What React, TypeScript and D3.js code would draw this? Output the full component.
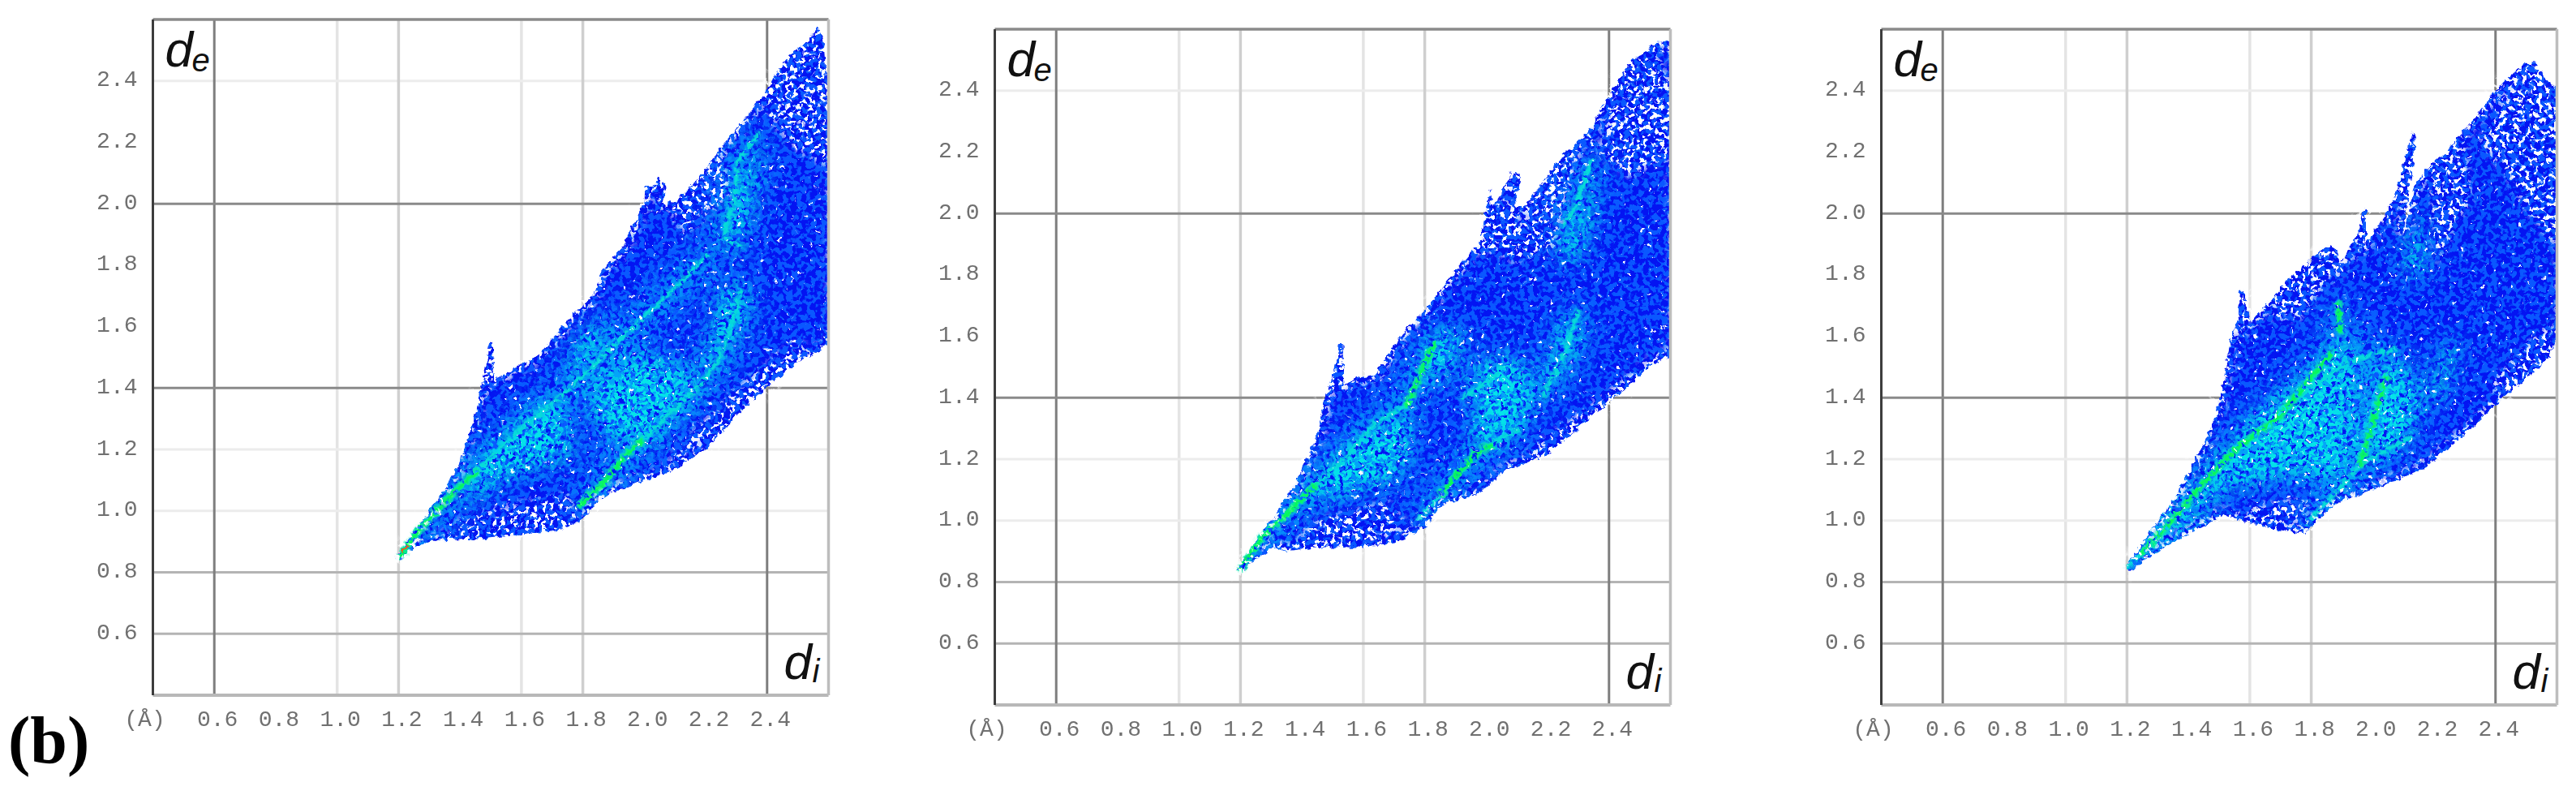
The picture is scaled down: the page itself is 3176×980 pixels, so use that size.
import React from 'react';
import * as d3 from 'd3';

const xTickLabels = [0.6, 0.8, 1.0, 1.2, 1.4, 1.6, 1.8, 2.0, 2.2, 2.4];
const yTickLabels = [2.4, 2.2, 2.0, 1.8, 1.6, 1.4, 1.2, 1.0, 0.8, 0.6];

// the picture only shows some of the grid lines, and at different strengths
const darkGridX = [0.6, 2.4];
const midGridX = [1.2, 1.8];
const faintGridX = [1.0, 1.6];
const darkGridY = [2.0, 1.4];
const midGridY = [0.8, 0.6];
const faintGridY = [2.4, 1.2, 1.0];

type Pt = [number, number];

// ---- left plot, outline and ridges as [di, de]
const upperEdgeA: Pt[] = [[1.19,0.846],[1.263,0.952],[1.339,1.052],[1.396,1.152],[1.424,1.239],[1.448,1.301],[1.471,1.414],[1.486,1.476],[1.5,1.557],[1.507,1.557],[1.511,1.426],[1.547,1.445],[1.585,1.47],[1.66,1.507],[1.698,1.557],[1.765,1.638],[1.831,1.7],[1.873,1.8],[1.925,1.85],[1.973,1.95],[2.001,2.012],[2.003,2.056],[2.03,2.056],[2.048,2.087],[2.072,2.056],[2.062,2.0],[2.105,2.012],[2.152,2.056],[2.2,2.112],[2.247,2.181],[2.304,2.25],[2.389,2.355],[2.426,2.418],[2.469,2.48],[2.521,2.524],[2.564,2.574],[2.583,2.536],[2.592,2.424],[2.62,2.4]];
const lowerEdgeA: Pt[] = [[2.62,1.56],[2.559,1.513],[2.493,1.482],[2.398,1.401],[2.304,1.314],[2.209,1.208],[2.114,1.146],[2.048,1.114],[1.973,1.089],[1.888,1.058],[1.85,1.033],[1.821,0.99],[1.774,0.958],[1.727,0.94],[1.594,0.921],[1.462,0.909],[1.301,0.902],[1.254,0.884],[1.207,0.84]];
const greenRidgesA: Pt[][] = [
  [[1.207,0.853],[1.263,0.934],[1.367,1.046],[1.452,1.127]],
  [[1.793,1.021],[1.878,1.102],[1.935,1.177],[1.991,1.227]],
];
const cyanRidgesA: Pt[][] = [
  [[1.452,1.127],[1.519,1.196],[1.623,1.289],[1.717,1.364],[1.812,1.451],[1.926,1.563],[2.02,1.651],[2.114,1.738],[2.209,1.838]],
  [[1.991,1.227],[2.067,1.301],[2.171,1.401],[2.237,1.482],[2.275,1.576],[2.313,1.713]],
  [[2.37,2.224],[2.304,2.137],[2.294,2.0],[2.266,1.938],[2.266,1.888],[2.318,1.857]],
];
const redRidgesA: Pt[][] = [[[1.212,0.865],[1.232,0.888]]];
const cloudsA: Pt[][] = [
  [[1.831,1.414],[1.973,1.514],[2.114,1.489],[2.171,1.401],[2.114,1.314],[2.02,1.214],[1.926,1.214],[1.831,1.289]],
  [[1.396,1.04],[1.452,1.164],[1.585,1.289],[1.66,1.364],[1.736,1.364],[1.774,1.177],[1.642,1.139],[1.547,1.114],[1.452,1.04]],
  [[1.774,1.538],[1.85,1.626],[1.888,1.588],[1.812,1.464],[1.736,1.414]],
  [[2.256,1.738],[2.341,1.738],[2.331,1.613],[2.256,1.513],[2.209,1.439],[2.171,1.414],[2.2,1.489]],
  [[2.275,2.012],[2.388,2.2],[2.36,2.012],[2.304,1.863],[2.256,1.863]],
];
const sparseA: Pt[][] = [
  [[2.426,2.418],[2.564,2.574],[2.62,2.4],[2.62,2.112],[2.49,2.18],[2.396,2.287]],
  [[1.48,1.0],[1.755,1.058],[1.774,0.977],[1.623,0.934],[1.405,0.915],[1.386,0.965]],
  [[2.05,1.12],[2.3,1.32],[2.55,1.5],[2.5,1.56],[2.3,1.4],[2.12,1.22]],
  [[2.07,2.0],[2.25,2.16],[2.28,2.03],[2.13,1.9]],
];

// ---- middle plot
const upperEdgeB: Pt[] = [[1.19,0.839],[1.252,0.939],[1.318,1.026],[1.384,1.132],[1.431,1.232],[1.455,1.295],[1.474,1.394],[1.502,1.482],[1.521,1.569],[1.533,1.569],[1.535,1.438],[1.573,1.463],[1.639,1.476],[1.676,1.532],[1.733,1.619],[1.799,1.682],[1.893,1.806],[1.978,1.906],[2.002,2.019],[2.014,2.081],[2.021,2.019],[2.058,2.081],[2.082,2.137],[2.11,2.131],[2.096,2.019],[2.12,2.019],[2.186,2.106],[2.252,2.194],[2.327,2.256],[2.375,2.343],[2.422,2.418],[2.469,2.5],[2.507,2.518],[2.544,2.556],[2.592,2.562],[2.62,2.55]];
const lowerEdgeB: Pt[] = [[2.62,1.54],[2.535,1.507],[2.431,1.407],[2.375,1.369],[2.28,1.282],[2.186,1.207],[2.073,1.17],[1.978,1.088],[1.856,1.051],[1.827,1.014],[1.79,0.97],[1.714,0.932],[1.601,0.914],[1.469,0.914],[1.346,0.901],[1.308,0.914],[1.205,0.839]];
const greenRidgesB: Pt[][] = [
  [[1.2,0.845],[1.271,0.945],[1.375,1.045],[1.441,1.113]],
  [[1.856,1.088],[1.912,1.157],[1.969,1.22],[2.016,1.245]],
  [[1.742,1.376],[1.799,1.507],[1.837,1.582]],
];
const cyanRidgesB: Pt[][] = [
  [[1.441,1.113],[1.544,1.207],[1.639,1.319],[1.742,1.376]],
  [[1.78,1.007],[1.856,1.088]],
  [[2.016,1.245],[2.101,1.295]],
  [[1.922,1.4],[2.0,1.45],[2.054,1.5]],
  [[2.252,1.969],[2.29,2.019],[2.346,2.181]],
  [[2.186,1.407],[2.261,1.557],[2.299,1.682]],
];
const redRidgesB: Pt[][] = [];
const cloudsB: Pt[][] = [
  [[1.95,1.507],[2.092,1.544],[2.167,1.419],[2.12,1.294],[1.997,1.232],[1.95,1.245],[1.969,1.4]],
  [[1.412,1.057],[1.459,1.17],[1.544,1.245],[1.676,1.332],[1.761,1.357],[1.752,1.195],[1.676,1.12],[1.525,1.082]],
  [[1.79,1.544],[1.846,1.632],[1.94,1.607],[1.865,1.482],[1.77,1.419]],
  [[2.233,1.607],[2.299,1.707],[2.308,1.582],[2.252,1.482],[2.186,1.419]],
  [[2.233,1.906],[2.327,2.081],[2.346,2.181],[2.346,2.006],[2.308,1.857],[2.261,1.832]],
];
const sparseB: Pt[][] = [
  [[2.365,2.194],[2.422,2.418],[2.544,2.556],[2.62,2.356],[2.62,2.194],[2.469,2.119]],
  [[1.431,0.995],[1.676,1.063],[1.752,0.982],[1.601,0.926],[1.375,0.92]],
  [[2.044,1.145],[2.148,1.232],[2.375,1.407],[2.592,1.569],[2.592,1.519],[2.375,1.357],[2.148,1.182],[2.044,1.107]],
  [[1.997,1.881],[2.016,2.056],[2.101,2.006],[2.11,1.957],[2.186,2.081],[2.318,2.231],[2.214,1.881],[2.09,1.844]],
];

// ---- right plot
const upperEdgeC: Pt[] = [[1.197,0.851],[1.268,0.957],[1.353,1.07],[1.42,1.195],[1.477,1.307],[1.51,1.432],[1.538,1.594],[1.562,1.657],[1.569,1.75],[1.581,1.75],[1.6,1.644],[1.656,1.707],[1.723,1.782],[1.808,1.857],[1.855,1.9],[1.884,1.887],[1.893,1.832],[1.95,1.932],[1.969,2.019],[1.978,2.019],[1.978,1.907],[2.016,1.957],[2.073,2.057],[2.116,2.219],[2.13,2.269],[2.139,2.256],[2.132,2.156],[2.097,1.932],[2.102,1.944],[2.139,2.094],[2.182,2.156],[2.234,2.194],[2.262,2.231],[2.329,2.306],[2.395,2.394],[2.442,2.444],[2.49,2.488],[2.528,2.494],[2.575,2.425],[2.62,2.39]];
const lowerEdgeC: Pt[] = [[2.62,1.63],[2.565,1.519],[2.433,1.407],[2.3,1.282],[2.168,1.17],[2.016,1.107],[1.884,1.057],[1.798,0.982],[1.78,0.957],[1.732,0.964],[1.637,0.982],[1.514,1.02],[1.448,0.982],[1.334,0.92],[1.211,0.839]];
const greenRidgesC: Pt[][] = [
  [[1.249,0.895],[1.363,1.02],[1.439,1.113],[1.552,1.232],[1.694,1.338],[1.865,1.544]],
  [[1.959,1.182],[1.997,1.307],[2.045,1.469]],
  [[1.888,1.706],[1.893,1.619]],
];
const cyanRidgesC: Pt[][] = [
  [[1.202,0.851],[1.249,0.895]],
  [[1.789,0.995],[1.884,1.095],[1.959,1.182],[2.12,1.27]],
  [[1.732,1.382],[1.922,1.519],[2.073,1.557]],
];
const redRidgesC: Pt[][] = [];
const cloudsC: Pt[][] = [
  [[1.95,1.182],[2.016,1.507],[2.111,1.532],[2.149,1.357],[2.111,1.257]],
  [[1.372,1.032],[1.618,1.357],[1.827,1.507],[1.902,1.657],[1.95,1.482],[1.922,1.132],[1.732,1.145],[1.543,1.107]],
  [[2.111,1.882],[2.168,2.019],[2.168,1.794],[2.111,1.794]],
  [[2.149,1.357],[2.253,1.607],[2.281,1.569],[2.225,1.407]],
  [[1.212,0.857],[1.344,1.057],[1.495,1.045],[1.334,0.932]],
];
const sparseC: Pt[][] = [
  [[2.347,2.231],[2.49,2.488],[2.62,2.394],[2.62,1.87],[2.51,1.994],[2.424,2.144]],
  [[1.723,1.782],[1.855,1.9],[1.893,1.832],[1.761,1.657],[1.666,1.657]],
  [[2.376,1.444],[2.565,1.632],[2.62,1.632],[2.565,1.519],[2.433,1.407]],
  [[2.187,2.144],[2.3,2.231],[2.319,2.044],[2.206,1.832]],
  [[1.59,1.045],[1.789,1.07],[1.77,0.995],[1.618,1.0]],
];

const plots = [
  { left: 188.5, top: 24, upper: upperEdgeA, lower: lowerEdgeA, green: greenRidgesA, cyan: cyanRidgesA, red: redRidgesA, clouds: cloudsA, sparse: sparseA },
  { left: 1226.5, top: 36, upper: upperEdgeB, lower: lowerEdgeB, green: greenRidgesB, cyan: cyanRidgesB, red: redRidgesB, clouds: cloudsB, sparse: sparseB },
  { left: 2319.5, top: 36, upper: upperEdgeC, lower: lowerEdgeC, green: greenRidgesC, cyan: cyanRidgesC, red: redRidgesC, clouds: cloudsC, sparse: sparseC },
];

const SIZE = 833;
const x = d3.scaleLinear().domain([0.4, 2.6]).range([0, SIZE]);
const y = d3.scaleLinear().domain([0.4, 2.6]).range([SIZE, 0]);
const line = d3.line<Pt>().x(d => x(d[0])).y(d => y(d[1]));
const closed = (pts: Pt[]) => line(pts) + 'Z';

const monoFont = '"Liberation Mono", "DejaVu Sans Mono", monospace';
const sansFont = '"Liberation Sans", Arial, sans-serif';

// speckle texture for the scattered pixels of the fingerprint: keeps the parts of the
// source where the noise is above a threshold
const Speckle = ({ id, freq, slope, cut, seed, blur }: any) => (
  <filter id={id} filterUnits="userSpaceOnUse" x={-30} y={-30} width={SIZE + 60} height={SIZE + 60} colorInterpolationFilters="sRGB">
    <feGaussianBlur in="SourceGraphic" stdDeviation={blur} result="s" />
    <feTurbulence type="fractalNoise" baseFrequency={freq} numOctaves={1} seed={seed} result="n" />
    <feColorMatrix in="n" type="matrix" values={`0 0 0 0 1  0 0 0 0 1  0 0 0 0 1  ${slope} 0 0 0 ${cut}`} result="m" />
    <feComposite in="s" in2="m" operator="in" />
  </filter>
);

const Plot = ({ plot, index }: any) => {
  const outline = closed([...plot.upper, ...plot.lower]);
  const seed = index * 7 + 3;
  const gridLines = (vals: number[], axis: string, color: string, w: number) =>
    vals.map(v =>
      axis === 'x'
        ? <line key={axis + v + color} x1={x(v)} x2={x(v)} y1={0} y2={SIZE} stroke={color} strokeWidth={w} />
        : <line key={axis + v + color} x1={0} x2={SIZE} y1={y(v)} y2={y(v)} stroke={color} strokeWidth={w} />
    );
  return (
    <g transform={`translate(${plot.left},${plot.top})`}>
      <defs>
        <clipPath id={`box${index}`}><rect x={0} y={-2} width={SIZE} height={SIZE} /></clipPath>
        <clipPath id={`shape${index}`}><path d={outline} /></clipPath>
        <filter id={`rough${index}`} filterUnits="userSpaceOnUse" x={-30} y={-30} width={SIZE + 60} height={SIZE + 60} colorInterpolationFilters="sRGB">
          <feTurbulence type="fractalNoise" baseFrequency={0.14} numOctaves={2} seed={seed + 1} result="n" />
          <feDisplacementMap in="SourceGraphic" in2="n" scale={8} xChannelSelector="R" yChannelSelector="G" />
          <feGaussianBlur stdDeviation={0.7} />
        </filter>
        <Speckle id={`mid${index}`} freq={0.17} slope={14} cut={-6.6} seed={seed + 2} blur={0} />
        <Speckle id={`halo${index}`} freq={0.2} slope={14} cut={-6.4} seed={seed + 7} blur={18} />
        <Speckle id={`cloud${index}`} freq={0.2} slope={16} cut={-7.7} seed={seed + 3} blur={12} />
        <Speckle id={`ridge${index}`} freq={0.2} slope={14} cut={-5.6} seed={seed + 4} blur={1} />
        <Speckle id={`dots${index}`} freq={0.2} slope={24} cut={-16.8} seed={seed + 5} blur={0} />
        <Speckle id={`holes${index}`} freq={0.2} slope={18} cut={-10} seed={seed + 6} blur={4} />
        <filter id={`soft${index}`}><feGaussianBlur stdDeviation={0.7} /></filter>
      </defs>

      <g filter={`url(#soft${index})`}>
        {gridLines(faintGridX, 'x', '#e4e4e4', 3.5)}
        {gridLines(faintGridY, 'y', '#ececec', 3)}
        {gridLines(midGridX, 'x', '#cfcfcf', 3.5)}
        {gridLines(midGridY, 'y', '#b4b4b4', 3)}
        {gridLines(darkGridX, 'x', '#7e7e7e', 3)}
        {gridLines(darkGridY, 'y', '#8a8a8a', 3)}
      </g>

      <g clipPath={`url(#box${index})`}>
        <g filter={`url(#rough${index})`}>
          <path d={outline} fill="#0414f2" />
          <path d={outline} fill="#0a58ff" filter={`url(#mid${index})`} />
          <g clipPath={`url(#shape${index})`}>
            <g filter={`url(#halo${index})`}>
              {plot.clouds.map((c: Pt[], i: number) => <path key={i} d={closed(c)} fill="#04a8f8" />)}
              {plot.cyan.map((r: Pt[], i: number) => <path key={i} d={line(r)!} stroke="#04a8f8" strokeWidth={40} fill="none" />)}
              {plot.green.map((r: Pt[], i: number) => <path key={i} d={line(r)!} stroke="#04a8f8" strokeWidth={40} fill="none" />)}
            </g>
            <g filter={`url(#cloud${index})`}>
              {plot.clouds.map((c: Pt[], i: number) => <path key={i} d={closed(c)} fill="#04e4e8" />)}
            </g>
          </g>
          <g filter={`url(#ridge${index})`} fill="none" strokeLinecap="round">
            {plot.cyan.map((r: Pt[], i: number) => <path key={i} d={line(r)!} stroke="#06dcd8" strokeWidth={6} />)}
            {plot.green.map((r: Pt[], i: number) => <path key={i} d={line(r)!} stroke="#08e8b0" strokeWidth={10} />)}
            {plot.green.map((r: Pt[], i: number) => <path key={i} d={line(r)!} stroke="#08f858" strokeWidth={5} />)}
          </g>
          {plot.red.map((r: Pt[], i: number) => <path key={i} d={line(r)!} stroke="#e85a20" strokeWidth={3} fill="none" />)}
          <path d={outline} fill="#fff" filter={`url(#dots${index})`} />
          <g filter={`url(#holes${index})`}>
            {plot.sparse.map((c: Pt[], i: number) => <path key={i} d={closed(c)} fill="#fff" />)}
            <path d={outline} fill="none" stroke="#fff" strokeWidth={16} />
          </g>
        </g>
      </g>

      <g filter={`url(#soft${index})`} fill="none">
        <line x1={0} x2={SIZE} y1={0} y2={0} stroke="#8a8a8a" strokeWidth={3.5} />
        <line x1={0} x2={SIZE} y1={SIZE} y2={SIZE} stroke="#b8b8b8" strokeWidth={4} />
        <line x1={SIZE} x2={SIZE} y1={0} y2={SIZE} stroke="#bdbdbd" strokeWidth={3.5} />
        <line x1={0} x2={0} y1={0} y2={SIZE} stroke="#3c3c3c" strokeWidth={3} />
      </g>

      <g filter={`url(#soft${index})`} fontFamily={monoFont} fontSize={28} fill="#707070">
        {yTickLabels.map(v => (
          <text key={v} x={-19} y={y(v) - 1} textAnchor="end" dominantBaseline="central">{v.toFixed(1)}</text>
        ))}
        {xTickLabels.map(v => (
          <text key={v} x={x(v) + 4} y={SIZE + 30} textAnchor="middle" dominantBaseline="central">{v.toFixed(1)}</text>
        ))}
        <text x={-10} y={SIZE + 30} textAnchor="middle" dominantBaseline="central">(Å)</text>
      </g>

      <g fontFamily={sansFont} fontStyle="italic" fill="#111">
        <text x={15} y={58} fontSize={62}>d</text>
        <text x={48} y={64} fontSize={40}>e</text>
        <text x={778} y={813} fontSize={62}>d</text>
        <text x={813} y={817} fontSize={40}>i</text>
      </g>
    </g>
  );
};

const App = () => (
  <svg width={3176} height={980} style={{ position: 'absolute', left: 0, top: 0, display: 'block', background: '#fff' }}>
    {plots.map((p, i) => <Plot key={i} plot={p} index={i} />)}
    <text x={10} y={940} fontFamily='"Liberation Serif", serif' fontSize={82} fontWeight="bold" fill="#000">(b)</text>
  </svg>
);

export default App;
